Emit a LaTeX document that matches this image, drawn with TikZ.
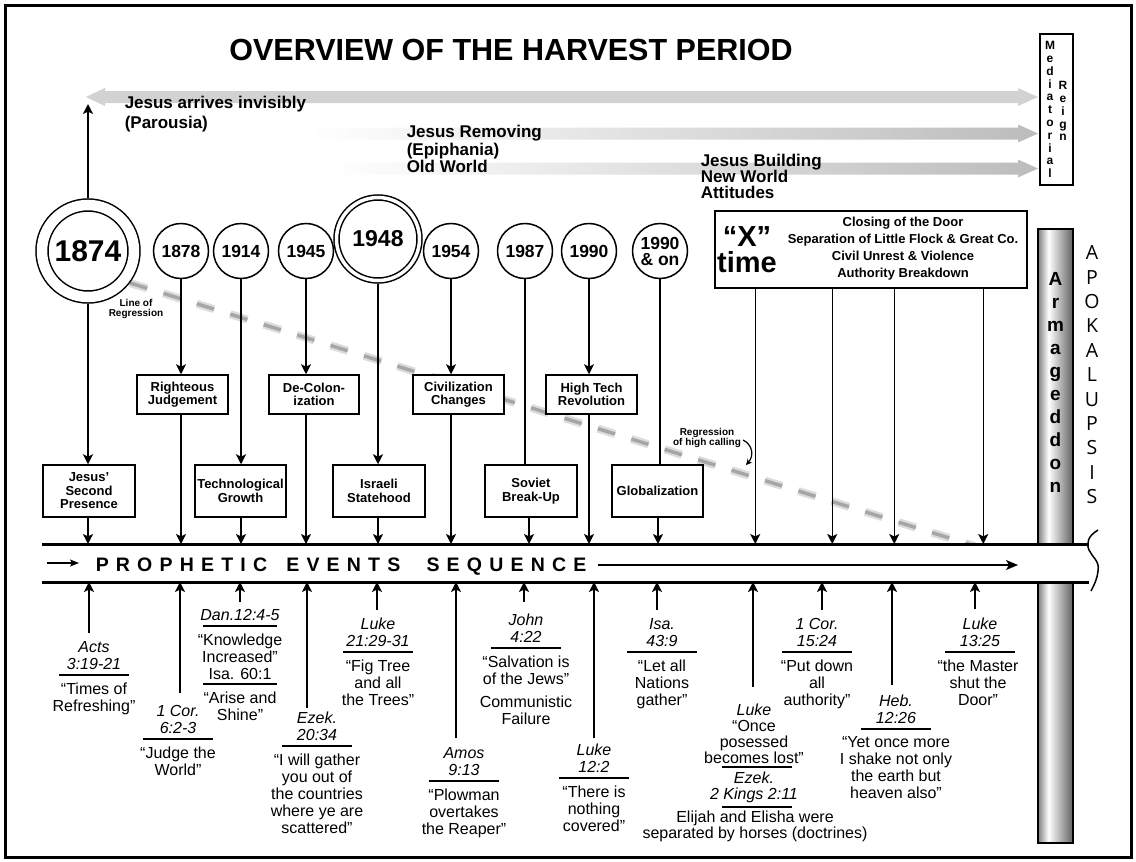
\documentclass[tikz,border=0pt]{standalone}
\usepackage{fontspec}
\setmainfont{Liberation Sans}
\newfontfamily\apofont{Open Sans}
\usetikzlibrary{arrows.meta,calc}
\definecolor{arrgrayA}{HTML}{D2D2D2}
\definecolor{arrgrayB}{HTML}{BCBCBC}
\definecolor{regLight}{HTML}{DCDCDC}
\definecolor{regDark}{HTML}{A6A6A6}
\pgfdeclarehorizontalshading{cylbar}{100bp}{color(0bp)=(black!50); color(25bp)=(black!50); color(40bp)=(white); color(75bp)=(black!62); color(100bp)=(black!62)}
\def\lsp#1{\ifx#1\relax\else#1\kern7.2pt\expandafter\lsp\fi}
\tikzset{
  arr/.style={line width=1.5pt,-{Stealth[length=10pt,width=10pt,inset=2.5pt]}},
  yearc/.style={circle,draw,line width=1.5pt,fill=white,minimum size=55pt,inner sep=0pt,align=center,font=\fontsize{17.5}{16}\selectfont\bfseries},
  bigyear/.style={circle,draw,line width=1.5pt,double,fill=white,inner sep=0pt},
  evbox/.style={draw,line width=1.5pt,fill=white,minimum width=91pt,inner sep=0pt,align=center,font=\fontsize{13}{13.5}\selectfont\bfseries},
  tallbox/.style={evbox,minimum height=52pt},
  shortbox/.style={evbox,minimum height=39pt},
  reftxt/.style={inner sep=0pt,align=center,anchor=south,font=\fontsize{16}{17}\selectfont\itshape},
  quotetxt/.style={inner sep=0pt,align=center,anchor=north,font=\fontsize{16}{17}\selectfont},
  sepline/.style={line width=1.3pt},
  toplbl/.style={inner sep=0pt,align=left,anchor=north west,font=\fontsize{17}{17.5}\selectfont\bfseries},
  smallbold/.style={inner sep=0pt,align=center,anchor=north,font=\fontsize{10}{10}\selectfont\bfseries},
}
\begin{document}
\begin{tikzpicture}[x=1pt,y=-1pt,line width=1.5pt]
\useasboundingbox (0,0) rectangle (1136,862);
% frame
\draw[line width=3pt] (5,5) rectangle (1131,857);

% gray period arrows
\fill[arrgrayA] (86,97) -- (105,88) -- (105,91) -- (1018,91) -- (1018,88) -- (1038,97) -- (1018,106) -- (1018,103) -- (105,103) -- (105,106) -- cycle;
\shade[left color=white,right color=arrgrayB] (310,127.5) -- (1018,127.5) -- (1018,124.5) -- (1038,133.5) -- (1018,142.5) -- (1018,139.5) -- (310,139.5) -- cycle;
\shade[left color=white,right color=arrgrayB] (330,162.5) -- (1018,162.5) -- (1018,159.5) -- (1038,168.5) -- (1018,177.5) -- (1018,174.5) -- (330,174.5) -- cycle;

% title and period labels
\node[anchor=base,inner sep=0pt,font=\fontsize{30.5}{31}\selectfont\bfseries] (title) at (511,60) {OVERVIEW OF THE HARVEST PERIOD};
\node[toplbl,font=\fontsize{17}{20}\selectfont\bfseries] (lblPar) at (124,95.8) {Jesus arrives invisibly\\(Parousia)};
\node[toplbl] (lblEpi) at (406,124.8) {Jesus Removing\\(Epiphania)\\Old World};
\node[toplbl,font=\fontsize{17}{16}\selectfont\bfseries] (lblNew) at (700,153.8) {Jesus Building\\New World\\Attitudes};

% Mediatorial Reign
\node[draw,line width=1.5pt,minimum width=33pt,minimum height=151pt,inner sep=0pt] (medbox) at (1056.5,109.5) {};
\node[inner sep=0pt,anchor=north,align=center,font=\fontsize{12}{12.8}\selectfont\bfseries] (medtxt) at (1050,40.7) {M\\e\\d\\i\\a\\t\\o\\r\\i\\a\\l};
\node[inner sep=0pt,anchor=north,align=center,font=\fontsize{12}{12.8}\selectfont\bfseries] (reigntxt) at (1063,80.7) {R\\e\\i\\g\\n};

% line of regression
\coordinate (regS) at (130,283);
\coordinate (regE) at (975,546);
\draw[regLight,line width=8pt,dash pattern=on 18pt off 17pt] (regS) -- (regE);
\draw[regDark,line width=3.5pt,dash pattern=on 18pt off 17pt] (regS) -- (regE);
\node[smallbold] (lblLOR) at (136,298.8) {Line of\\Regression};
\node[smallbold] (lblRHC) at (707,427.8) {Regression\\of high calling};
\coordinate (rhcTip) at (746,465);
\draw[line width=1.2pt,-{Stealth[length=6pt,width=6pt]}] (743,440) .. controls (753,445) and (754,456) .. (rhcTip);

% year circles
\node[bigyear,minimum size=92pt,double distance=10.5pt,outer sep=6.75pt,font=\fontsize{30}{30}\selectfont\bfseries] (c1874) at (88,251) {1874};
\node[yearc] (c1878) at (181,251) {1878};
\node[yearc] (c1914) at (241,251) {1914};
\node[yearc] (c1945) at (306,251) {1945};
\node[bigyear,minimum size=83pt,double distance=3.5pt,outer sep=3.25pt,font=\fontsize{23}{23}\selectfont\bfseries] (c1948) at (378,239) {1948};
\node[yearc] (c1954) at (451,251) {1954};
\node[yearc] (c1987) at (525,251) {1987};
\node[yearc] (c1990) at (589,251) {1990};
\node[yearc] (c1990on) at (660,251) {1990\\\& on};

% event boxes
\node[tallbox,minimum width=92pt] (bJSP) at (89,491) {Jesus’\\Second\\Presence};
\node[shortbox] (bRJ) at (182.5,394.5) {Righteous\\Judgement};
\node[tallbox] (bTG) at (240.5,491) {Technological\\Growth};
\node[shortbox,minimum width=90pt] (bDC) at (314,394.5) {De-Colon-\\ization};
\node[tallbox,minimum width=92pt] (bIS) at (379,491) {Israeli\\Statehood};
\node[shortbox] (bCC) at (458.5,394.5) {Civilization\\Changes};
\node[tallbox,minimum width=92pt] (bSB) at (531,491) {Soviet\\Break-Up};
\node[shortbox] (bHT) at (591.5,394.5) {High Tech\\Revolution};
\node[tallbox] (bGL) at (657.5,491) {Globalization};

% "X" time box
\node[draw,line width=1.5pt,fill=white,minimum width=312pt,minimum height=77pt,inner sep=0pt] (bX) at (871,249.5) {};
\node[inner sep=0pt,anchor=north,align=center,font=\fontsize{29}{26}\selectfont\bfseries] (xtime) at (747,226) {“X”\\time};
\node[inner sep=0pt,anchor=north,align=center,font=\fontsize{13}{17}\selectfont\bfseries] (xlist) at (903,216.7) {Closing of the Door\\Separation of Little Flock \& Great Co.\\Civil Unrest \& Violence\\Authority Breakdown};

% Armageddon bar
\shade[shading=cylbar] (1038,229) rectangle (1073,843);
\draw[line width=1.5pt] (1038,229) rectangle (1073,843);
\node[inner sep=0pt,anchor=north,align=center,font=\fontsize{19}{23}\selectfont\bfseries] (armtxt) at (1055.5,271.4) {A\\r\\m\\a\\g\\e\\d\\d\\o\\n};
\node[inner sep=0pt,anchor=north,align=center,font=\apofont\fontsize{19.5}{24.4}\selectfont] (apotxt) at (1092,245) {A\\P\\O\\K\\A\\L\\U\\P\\S\\I\\S};

% timeline band
\node[fill=white,minimum width=1047pt,minimum height=38pt,inner sep=0pt,outer sep=0pt] (band) at (565.5,563) {};
\draw[line width=3pt] (band.north west) -- (band.north east);
\draw[line width=3pt] (band.south west) -- (band.south east);
\draw[line width=1.5pt] (1098,530) .. controls (1088,536) and (1086,543) .. (1089,550) .. controls (1092,557) and (1100,561) .. (1098,571) .. controls (1097,580) and (1094,585) .. (1091,591);
\coordinate (bandArrS) at (47,563);
\coordinate (bandArrE) at (79,563);
\draw[line width=1.5pt,-{Stealth[length=9pt,width=7pt,inset=2pt]}] (bandArrS) -- (bandArrE);
\node[anchor=base west,inner sep=0pt,font=\fontsize{19.5}{20}\selectfont\bfseries] (seq) at (95,571) {\lsp PROPHETIC\relax\hspace{12pt}\lsp EVENTS\relax\hspace{19pt}\lsp SEQUENCE\relax};
\coordinate (seqS) at (598,565);
\coordinate (seqE) at (1018,565);
\draw[line width=1.5pt,-{Stealth[length=12pt,width=10pt,inset=3pt]}] (seqS) -- (seqE);

% connectors: top
\coordinate (parTip) at (88,104);
\draw[arr] (c1874.north) -- (parTip);
\draw[arr] (c1874.south) -- (c1874.south |- bJSP.north);
\draw[arr] (c1874 |- bJSP.south) -- (c1874 |- band.north);
\draw[arr] (c1878.south) -- (c1878.south |- bRJ.north);
\draw[arr] (c1878 |- bRJ.south) -- (c1878 |- band.north);
\draw[arr] (c1914.south) -- (c1914.south |- bTG.north);
\draw[arr] (c1914 |- bTG.south) -- (c1914 |- band.north);
\draw[arr] (c1945.south) -- (c1945.south |- bDC.north);
\draw[arr] (c1945 |- bDC.south) -- (c1945 |- band.north);
\draw[arr] (c1948.south) -- (c1948.south |- bIS.north);
\draw[arr] (c1948 |- bIS.south) -- (c1948 |- band.north);
\draw[arr] (c1954.south) -- (c1954.south |- bCC.north);
\draw[arr] (c1954 |- bCC.south) -- (c1954 |- band.north);
\draw[line width=1.5pt] (c1987.south) -- (c1987.south |- bSB.north);
\draw[arr] ([xshift=-2pt]bSB.south) -- ([xshift=-2pt]bSB.south |- band.north);
\draw[arr] (c1990.south) -- (c1990.south |- bHT.north);
\draw[arr] (c1990 |- bHT.south) -- (c1990 |- band.north);
\draw[line width=1.5pt] (c1990on.south) -- (c1990on.south |- bGL.north);
\draw[arr] ([xshift=0.5pt]bGL.south) -- ([xshift=0.5pt]bGL.south |- band.north);
\draw[arr] ([xshift=41pt]bX.south west) -- ([xshift=41pt]bX.south west |- band.north);
\draw[arr] ([xshift=118pt]bX.south west) -- ([xshift=118pt]bX.south west |- band.north);
\draw[arr] ([xshift=180pt]bX.south west) -- ([xshift=180pt]bX.south west |- band.north);
\draw[arr] ([xshift=269pt]bX.south west) -- ([xshift=269pt]bX.south west |- band.north);

% bottom labels
% Acts
\node[reftxt] (rActs) at (94,670) {Acts\\3:19-21};
\draw[sepline] (59,675) -- (129,675);
\node[quotetxt] (qActs) at (94,682) {“Times of\\Refreshing”};
\coordinate (aActs) at (89,633);
\draw[arr] (aActs) -- (aActs |- band.south);
% 1 Cor 6
\node[reftxt] (rCor6) at (178,734) {1 Cor.\\6:2-3};
\draw[sepline] (143,739) -- (213,739);
\node[quotetxt] (qCor6) at (178,746) {“Judge the\\World”};
\coordinate (aCor6) at (180,693);
\draw[arr] (aCor6) -- (aCor6 |- band.south);
% Dan
\node[reftxt] (rDan) at (240,621) {Dan.12:4-5};
\draw[sepline] (203,626) -- (277,626);
\node[quotetxt] (qDan) at (240,633) {“Knowledge\\Increased”\\Isa. 60:1};
\draw[sepline] (203,684) -- (277,684);
\node[quotetxt] (qIsa60) at (240,691) {“Arise and\\Shine”};
\coordinate (aDan) at (240,602);
\draw[arr] (aDan) -- (aDan |- band.south);
% Ezek 20
\node[reftxt] (rEzek) at (317,741) {Ezek.\\20:34};
\draw[sepline] (282,746) -- (352,746);
\node[quotetxt] (qEzek) at (317,753) {“I will gather\\you out of\\the countries\\where ye are\\scattered”};
\coordinate (aEzek) at (307,708);
\draw[arr] (aEzek) -- (aEzek |- band.south);
% Luke 21
\node[reftxt] (rLuke21) at (378,647) {Luke\\21:29-31};
\draw[sepline] (343,652) -- (413,652);
\node[quotetxt] (qLuke21) at (378,659) {“Fig Tree\\and all\\the Trees”};
\coordinate (aLuke21) at (377,610);
\draw[arr] (aLuke21) -- (aLuke21 |- band.south);
% Amos
\node[reftxt] (rAmos) at (464,776) {Amos\\9:13};
\draw[sepline] (429,781) -- (499,781);
\node[quotetxt] (qAmos) at (464,788) {“Plowman\\overtakes\\the Reaper”};
\coordinate (aAmos) at (456,738);
\draw[arr] (aAmos) -- (aAmos |- band.south);
% John
\node[reftxt] (rJohn) at (526,643) {John\\4:22};
\draw[sepline] (491,648) -- (561,648);
\node[quotetxt] (qJohn) at (526,655) {“Salvation is\\of the Jews”\\[6pt]Communistic\\Failure};
\coordinate (aJohn) at (524,602);
\draw[arr] (aJohn) -- (aJohn |- band.south);
% Luke 12
\node[reftxt] (rLuke12) at (594,773) {Luke\\12:2};
\draw[sepline] (559,778) -- (629,778);
\node[quotetxt] (qLuke12) at (594,785) {“There is\\nothing\\covered”};
\coordinate (aLuke12) at (594,738);
\draw[arr] (aLuke12) -- (aLuke12 |- band.south);
% Isa 43
\node[reftxt] (rIsa43) at (662,647) {Isa.\\43:9};
\draw[sepline] (627,652) -- (697,652);
\node[quotetxt] (qIsa43) at (662,659) {“Let all\\Nations\\gather”};
\coordinate (aIsa43) at (657,610);
\draw[arr] (aIsa43) -- (aIsa43 |- band.south);
% Luke once possessed
\node[reftxt,font=\fontsize{16}{16}\selectfont] (rLukeOnce) at (754,764) {\textit{Luke}\\“Once\\posessed\\becomes lost”};
\draw[sepline] (722,767) -- (792,767);
\node[quotetxt,font=\fontsize{16}{16}\selectfont\itshape] (rEzek2K) at (754,771) {Ezek.\\2 Kings 2:11};
\draw[sepline] (722,807) -- (792,807);
\node[quotetxt,font=\fontsize{16}{16}\selectfont] (qElijah) at (755,810) {Elijah and Elisha were\\separated by horses (doctrines)};
\coordinate (aLukeOnce) at (753,687);
\draw[arr] (aLukeOnce) -- (aLukeOnce |- band.south);
% 1 Cor 15
\node[reftxt] (rCor15) at (817,647) {1 Cor.\\15:24};
\draw[sepline] (782,652) -- (852,652);
\node[quotetxt] (qCor15) at (817,659) {“Put down\\all\\authority”};
\coordinate (aCor15) at (822,610);
\draw[arr] (aCor15) -- (aCor15 |- band.south);
% Heb
\node[reftxt] (rHeb) at (896,724) {Heb.\\12:26};
\draw[sepline] (861,729) -- (931,729);
\node[quotetxt] (qHeb) at (896,736) {“Yet once more\\I shake not only\\the earth but\\heaven also”};
\coordinate (aHeb) at (892,685);
\draw[arr] (aHeb) -- (aHeb |- band.south);
% Luke 13
\node[reftxt] (rLuke13) at (980,647) {Luke\\13:25};
\draw[sepline] (945,652) -- (1015,652);
\node[quotetxt] (qLuke13) at (978,659) {“the Master\\shut the\\Door”};
\coordinate (aLuke13) at (975,609);
\draw[arr] (aLuke13) -- (aLuke13 |- band.south);
\end{tikzpicture}
\end{document}
